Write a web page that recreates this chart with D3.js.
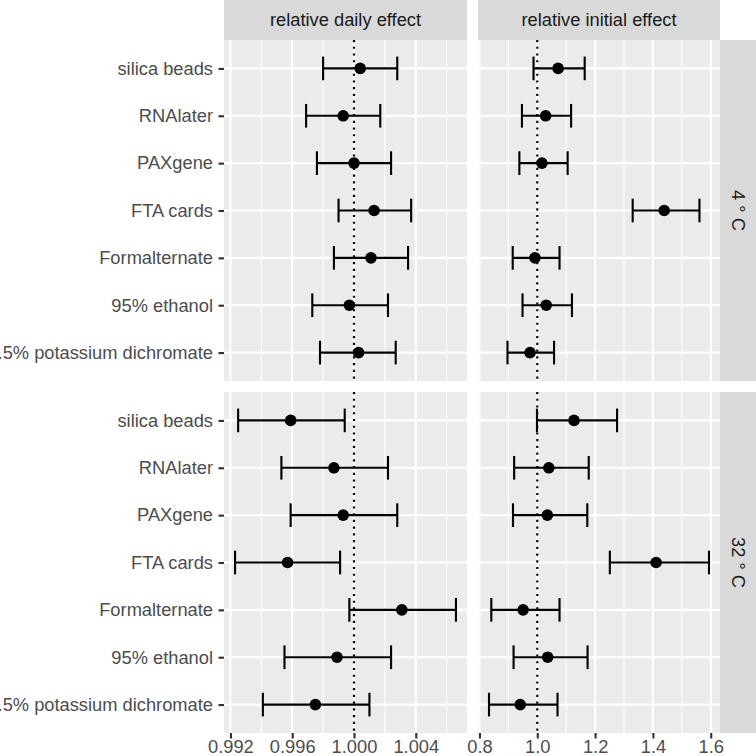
<!DOCTYPE html>
<html>
<head>
<meta charset="utf-8">
<script src="https://cdn.jsdelivr.net/npm/d3@7/dist/d3.min.js"></script>
<style>
  html, body { margin: 0; padding: 0; background: #ffffff; }
  svg { display: block; }
  text { font-family: "Liberation Sans", Arial, sans-serif; }
</style>
</head>
<body>
<svg id="chart" width="756" height="756"></svg>
<script>
// ---- data ----
const categories = ["silica beads", "RNAlater", "PAXgene", "FTA cards", "Formalternate", "95% ethanol", "2.5% potassium dichromate"];
const effects = ["relative daily effect", "relative initial effect"];
const temperatures = ["4 \u00B0 C", "32 \u00B0 C"];

const daily4Est = [1.0004, 0.9993, 1.0000, 1.0013, 1.0011, 0.9997, 1.0003];
const daily4Lo  = [0.9980, 0.9969, 0.9976, 0.9990, 0.9987, 0.9973, 0.9978];
const daily4Hi  = [1.0028, 1.0017, 1.0024, 1.0037, 1.0035, 1.0022, 1.0027];

const initial4Est = [1.072, 1.029, 1.016, 1.439, 0.992, 1.031, 0.975];
const initial4Lo  = [0.987, 0.947, 0.938, 1.330, 0.915, 0.949, 0.897];
const initial4Hi  = [1.164, 1.117, 1.105, 1.561, 1.077, 1.120, 1.058];

const daily32Est = [0.9959, 0.9987, 0.9993, 0.9957, 1.0031, 0.9989, 0.9975];
const daily32Lo  = [0.9925, 0.9953, 0.9959, 0.9923, 0.9997, 0.9955, 0.9941];
const daily32Hi  = [0.9994, 1.0022, 1.0028, 0.9991, 1.0066, 1.0024, 1.0010];

const initial32Est = [1.127, 1.040, 1.035, 1.411, 0.951, 1.036, 0.941];
const initial32Lo  = [0.999, 0.920, 0.916, 1.251, 0.841, 0.918, 0.833];
const initial32Hi  = [1.276, 1.178, 1.173, 1.594, 1.077, 1.174, 1.070];

const dailyTicks = [0.992, 0.996, 1.000, 1.004];
const initialTicks = [0.8, 1.0, 1.2, 1.4, 1.6];
const referenceValue = 1;

// ---- build panel table ----
function rows(est, lo, hi) {
  return categories.map((c, i) => ({ cat: c, est: est[i], lo: lo[i], hi: hi[i] }));
}
const panelData = [
  [rows(daily4Est, daily4Lo, daily4Hi), rows(initial4Est, initial4Lo, initial4Hi)],
  [rows(daily32Est, daily32Lo, daily32Hi), rows(initial32Est, initial32Lo, initial32Hi)]
];

// ---- layout ----
const colX = [[224, 467], [478, 720]];
const rowY = [[40, 381], [392, 733]];
const stripTop = [0, 40];
const stripRight = [720, 756];
const fontSize = 18.3;

const svg = d3.select("#chart");

// x scales per column: data range with 5% expansion
const xScales = [0, 1].map(col => {
  const all = panelData.flatMap(r => r[col]).flatMap(d => [d.lo, d.hi, d.est]);
  const [mn, mx] = d3.extent(all);
  const pad = (mx - mn) * 0.05;
  return d3.scaleLinear().domain([mn - pad, mx + pad]).range(colX[col]);
});
const tickSets = [dailyTicks, initialTicks];
const tickFormats = [d3.format(".3f"), d3.format(".1f")];

const yScales = [0, 1].map(row => d3.scalePoint().domain(categories).range(rowY[row]).padding(0.6));

function minorTicks(ticks, domain) {
  const step = ticks[1] - ticks[0];
  const out = [];
  for (let i = -1; i < ticks.length; i++) {
    const v = ticks[0] + step * (i + 0.5);
    if (v >= domain[0] && v <= domain[1]) out.push(v);
  }
  return out;
}

for (let r = 0; r < 2; r++) {
  for (let c = 0; c < 2; c++) {
    const x = xScales[c], y = yScales[r];
    const g = svg.append("g");
    // background
    g.append("rect")
      .attr("x", colX[c][0]).attr("y", rowY[r][0])
      .attr("width", colX[c][1] - colX[c][0]).attr("height", rowY[r][1] - rowY[r][0])
      .attr("fill", "#ebebeb");
    // minor grid
    g.selectAll(".minor").data(minorTicks(tickSets[c], x.domain())).enter().append("line")
      .attr("x1", d => x(d)).attr("x2", d => x(d))
      .attr("y1", rowY[r][0]).attr("y2", rowY[r][1])
      .attr("stroke", "#ffffff").attr("stroke-width", 1.07);
    // major grid vertical
    g.selectAll(".majorx").data(tickSets[c]).enter().append("line")
      .attr("x1", d => x(d)).attr("x2", d => x(d))
      .attr("y1", rowY[r][0]).attr("y2", rowY[r][1])
      .attr("stroke", "#ffffff").attr("stroke-width", 2.13);
    // major grid horizontal
    g.selectAll(".majory").data(categories).enter().append("line")
      .attr("x1", colX[c][0]).attr("x2", colX[c][1])
      .attr("y1", d => y(d)).attr("y2", d => y(d))
      .attr("stroke", "#ffffff").attr("stroke-width", 2.13);
    // reference dotted line
    g.append("line")
      .attr("x1", x(referenceValue)).attr("x2", x(referenceValue))
      .attr("y1", rowY[r][0]).attr("y2", rowY[r][1])
      .attr("stroke", "#000000").attr("stroke-width", 2.13)
      .attr("stroke-dasharray", "2.13,4.6");
    // error bars
    const data = panelData[r][c];
    const cap = y.step() * 0.25;
    const eb = g.selectAll(".eb").data(data).enter().append("g");
    eb.append("line")
      .attr("x1", d => x(d.lo)).attr("x2", d => x(d.hi))
      .attr("y1", d => y(d.cat)).attr("y2", d => y(d.cat))
      .attr("stroke", "#000").attr("stroke-width", 2.13);
    eb.append("line")
      .attr("x1", d => x(d.lo)).attr("x2", d => x(d.lo))
      .attr("y1", d => y(d.cat) - cap).attr("y2", d => y(d.cat) + cap)
      .attr("stroke", "#000").attr("stroke-width", 2.13);
    eb.append("line")
      .attr("x1", d => x(d.hi)).attr("x2", d => x(d.hi))
      .attr("y1", d => y(d.cat) - cap).attr("y2", d => y(d.cat) + cap)
      .attr("stroke", "#000").attr("stroke-width", 2.13);
    eb.append("circle")
      .attr("cx", d => x(d.est)).attr("cy", d => y(d.cat))
      .attr("r", 5.8).attr("fill", "#000");

    // y axis (left column only)
    if (c === 0) {
      const ax = svg.append("g")
        .attr("transform", `translate(${colX[0][0]},0)`)
        .call(d3.axisLeft(y).tickSize(5.5).tickPadding(5.5));
      ax.select(".domain").remove();
      ax.selectAll(".tick line").attr("stroke", "#333333").attr("stroke-width", 2.13);
      ax.selectAll(".tick text")
        .attr("fill", "#4d4d4d").attr("font-size", fontSize)
        .attr("font-family", "'Liberation Sans', Arial, sans-serif");
    }
    // x axis (bottom row only)
    if (r === 1) {
      const ax = svg.append("g")
        .attr("transform", `translate(0,${rowY[1][1]})`)
        .call(d3.axisBottom(x).tickValues(tickSets[c]).tickFormat(tickFormats[c]).tickSize(5.5).tickPadding(1.5));
      ax.select(".domain").remove();
      ax.selectAll(".tick line").attr("stroke", "#333333").attr("stroke-width", 2.13);
      ax.selectAll(".tick text")
        .attr("fill", "#4d4d4d").attr("font-size", fontSize)
        .attr("font-family", "'Liberation Sans', Arial, sans-serif");
    }
  }
}

// top strips
effects.forEach((e, c) => {
  svg.append("rect")
    .attr("x", colX[c][0]).attr("y", stripTop[0])
    .attr("width", colX[c][1] - colX[c][0]).attr("height", stripTop[1] - stripTop[0])
    .attr("fill", "#d9d9d9");
  svg.append("text")
    .attr("x", (colX[c][0] + colX[c][1]) / 2)
    .attr("y", (stripTop[0] + stripTop[1]) / 2)
    .attr("dy", "0.35em")
    .attr("text-anchor", "middle")
    .attr("font-size", fontSize).attr("fill", "#1a1a1a")
    .text(e);
});

// right strips
temperatures.forEach((t, r) => {
  svg.append("rect")
    .attr("x", stripRight[0]).attr("y", rowY[r][0])
    .attr("width", stripRight[1] - stripRight[0]).attr("height", rowY[r][1] - rowY[r][0])
    .attr("fill", "#d9d9d9");
  const cx = (stripRight[0] + stripRight[1]) / 2;
  const cy = (rowY[r][0] + rowY[r][1]) / 2;
  svg.append("text")
    .attr("transform", `translate(${cx},${cy}) rotate(90)`)
    .attr("dy", "0.35em")
    .attr("text-anchor", "middle")
    .attr("font-size", fontSize).attr("fill", "#1a1a1a")
    .text(t);
});
</script>
</body>
</html>
